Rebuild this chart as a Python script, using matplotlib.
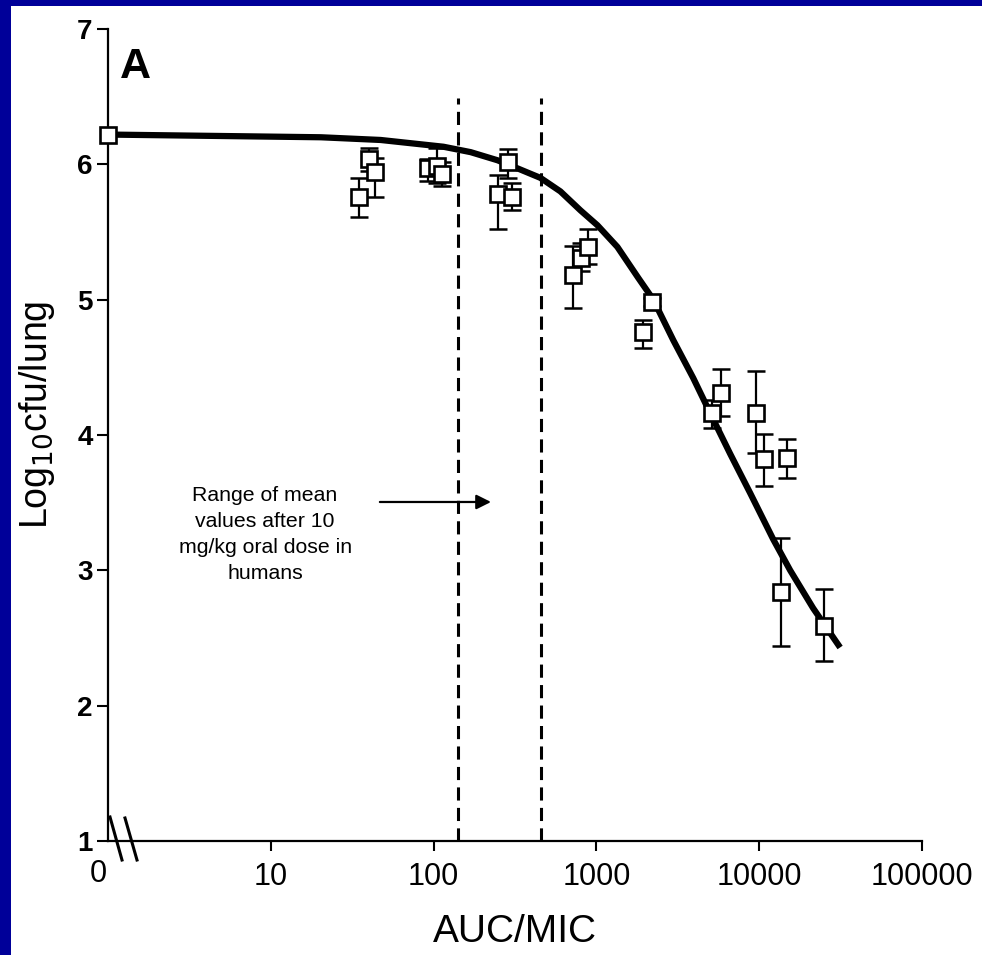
import numpy as np
import matplotlib
matplotlib.use("Agg")
import matplotlib.pyplot as plt
import matplotlib.transforms as mtransforms
from matplotlib.patches import Rectangle
from matplotlib.lines import Line2D

plt.rcParams['font.family'] = ['Liberation Sans', 'DejaVu Sans']

# ---- data ----
auc_mic = [0, 35, 40, 43.5, 93, 105, 113, 247, 285, 305, 722, 805, 893,
           1940, 2210, 5150, 5850, 9550, 10700, 13650, 14800, 25100]
log_cfu = [6.22, 5.76, 6.04, 5.94, 5.97, 5.99, 5.93, 5.78, 6.02, 5.76, 5.18, 5.31, 5.39,
           4.76, 4.98, 4.16, 4.31, 4.16, 3.82, 2.84, 3.83, 2.59]
err_low = [6.22, 5.61, 5.95, 5.76, 5.88, 5.86, 5.84, 5.52, 5.90, 5.66, 4.94, 5.21, 5.26,
           4.64, 4.95, 4.05, 4.14, 3.87, 3.62, 2.44, 3.68, 2.33]
err_high = [6.22, 5.90, 6.12, 6.05, 6.04, 6.12, 6.02, 5.92, 6.11, 5.86, 5.40, 5.42, 5.52,
            4.85, 5.01, 4.26, 4.49, 4.47, 4.01, 3.24, 3.97, 2.86]

fit_auc = [0, 20.3, 47.3, 115, 169, 247, 328, 453, 601, 798, 1014, 1345, 1810, 2237,
           2968, 3937, 5149, 6639, 8809, 12184, 15498, 21451, 31404]
fit_cfu = [6.22, 6.20, 6.18, 6.13, 6.09, 6.03, 5.97, 5.90, 5.80, 5.66, 5.55, 5.39, 5.16,
           5.00, 4.70, 4.42, 4.13, 3.86, 3.57, 3.23, 3.00, 2.72, 2.43]

human_range = [142, 460]     # AUC/MIC range in humans (dashed lines)
human_top = 6.49

x_ticks = [10, 100, 1000, 10000, 100000]
x_tick_labels = ['10', '100', '1000', '10000', '100000']
y_ticks = [1, 2, 3, 4, 5, 6, 7]
AXIS_ZERO = 1  # AUC/MIC = 0 is drawn at the broken axis start

W, H = 982, 955
fig = plt.figure(figsize=(W / 100, H / 100), dpi=100)
fig.patch.set_facecolor('#000099')
fig.add_artist(Rectangle((11 / W, 0), 1, 1 - 6 / H, transform=fig.transFigure,
                         facecolor='white', edgecolor='none', zorder=-10))

ax = fig.add_axes([108 / W, 1 - 841 / H, 814 / W, 812 / H])
ax.set_facecolor('none')
ax.set_xscale('log')
ax.set_xlim(1, 100000)
ax.set_ylim(1, 7)

x = np.array([v if v > 0 else AXIS_ZERO for v in auc_mic], dtype=float)
y = np.array(log_cfu)
lo = np.array(err_low)
hi = np.array(err_high)
fx = np.array([v if v > 0 else AXIS_ZERO for v in fit_auc], dtype=float)

ax.plot(fx, fit_cfu, color='black', lw=4.5, solid_capstyle='butt',
        solid_joinstyle='round', zorder=2, clip_on=False)

has_err = (hi - lo) > 0
ax.errorbar(x[has_err], y[has_err], yerr=[y[has_err] - lo[has_err], hi[has_err] - y[has_err]],
            fmt='none', ecolor='black', elinewidth=1.6, capsize=6.5, capthick=1.8, zorder=3)
ax.plot(x, y, linestyle='none', marker='s', ms=12, mfc='white', mec='black',
        mew=1.9, zorder=4, clip_on=False)

for hx in human_range:
    ax.plot([hx, hx], [1, human_top], color='black', lw=2.2,
            linestyle=(0, (4.3, 2.4)), zorder=1)

# axes styling
for s in ['top', 'right']:
    ax.spines[s].set_visible(False)
for s in ['left', 'bottom']:
    ax.spines[s].set_linewidth(1.6)
ax.set_xticks(x_ticks)
ax.set_xticklabels(x_tick_labels)
ax.xaxis.set_minor_locator(matplotlib.ticker.NullLocator())
ax.set_yticks(y_ticks)
ax.tick_params(axis='x', length=7, width=1.5, pad=8, labelsize=22)
ax.tick_params(axis='y', length=8, width=1.5, pad=3, labelsize=20)
for lab in ax.get_yticklabels():
    lab.set_fontweight('bold')

zero_txt = ax.text(AXIS_ZERO, 1, '0', fontsize=22, ha='center', va='top')
zero_txt.set_transform(ax.transData + mtransforms.ScaledTranslation(-10 / 100, -18 / 100,
                                                                    fig.dpi_scale_trans))

ax.set_xlabel('AUC/MIC', fontsize=28)
ax.xaxis.set_label_coords(0.5, -0.09)
ax.set_ylabel('Log$_{10}$cfu/lung', fontsize=27)
ax.yaxis.set_label_coords(-0.063, 0.525)

ax.text(0.0147, 0.978, 'A', transform=ax.transAxes, fontsize=31, fontweight='bold',
        ha='left', va='top')

ax.text(0.193, 0.377, 'Range of mean\nvalues after 10\nmg/kg oral dose in\nhumans',
        transform=ax.transAxes, fontsize=15.3, ha='center', va='center', linespacing=1.47)
ax.annotate('', xy=(0.4705, 0.4175), xytext=(0.334, 0.4175), xycoords='axes fraction',
            arrowprops=dict(arrowstyle='-|>', lw=1.6, color='black', mutation_scale=22,
                            shrinkA=0, shrinkB=0))

# axis break marks
for (x0, y0, x1, y1) in [(110, 817, 122, 860), (125, 818, 137, 860)]:
    fig.add_artist(Line2D([x0 / W, x1 / W], [1 - y0 / H, 1 - y1 / H],
                          transform=fig.transFigure, color='black', lw=2.2))

fig.savefig('out.png', dpi=100, facecolor=fig.get_facecolor())
